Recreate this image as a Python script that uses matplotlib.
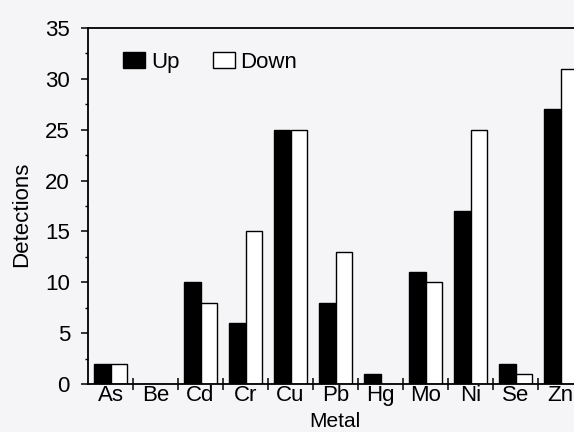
import matplotlib
matplotlib.use("Agg")
import matplotlib.pyplot as plt
import numpy as np
from matplotlib.ticker import MultipleLocator, FixedLocator, NullFormatter

plt.rcParams['font.family'] = ['Liberation Sans', 'DejaVu Sans']

metals = ["As", "Be", "Cd", "Cr", "Cu", "Pb", "Hg", "Mo", "Ni", "Se", "Zn"]
up = [2, 0, 10, 6, 25, 8, 1, 11, 17, 2, 27]
down = [2, 0, 8, 15, 25, 13, 0, 10, 25, 1, 31]

bg = "#f5f5f7"
fig = plt.figure(figsize=(5.74, 4.32), dpi=100, facecolor=bg)
ax = fig.add_axes([88 / 574, 1 - 384 / 432, 495 / 574, 356 / 432], facecolor=bg)

x = np.arange(len(metals))
w = 0.36
ax.bar(x - w / 2, up, width=w, color="black", edgecolor="black", linewidth=1.0, label="Up")
ax.bar(x + w / 2, down, width=w, color="white", edgecolor="black", linewidth=1.0, label="Down")

ax.set_xlim(-0.5, len(metals) - 0.5)
ax.set_ylim(0, 35)

ax.spines["right"].set_visible(False)
for s in ("left", "bottom", "top"):
    ax.spines[s].set_linewidth(1.3)

ax.yaxis.set_major_locator(MultipleLocator(5))
ax.yaxis.set_minor_locator(MultipleLocator(2.5))
ax.tick_params(axis="y", which="major", direction="out", length=5, width=1.1, labelsize=16, pad=8)
ax.tick_params(axis="y", which="minor", direction="out", length=2.5, width=1.0)

ax.xaxis.set_major_locator(FixedLocator(x))
ax.set_xticklabels(metals)
ax.xaxis.set_minor_locator(FixedLocator(x[:-1] + 0.5))
ax.xaxis.set_minor_formatter(NullFormatter())
ax.tick_params(axis="x", which="major", length=0, labelsize=16, pad=1)
ax.tick_params(axis="x", which="minor", direction="inout", length=8, width=1.1)

ax.set_ylabel("Detections", fontsize=16)
ax.yaxis.set_label_coords(-(88 - 32) / 495, (384 - 214) / 356)
ax.set_xlabel("Metal", fontsize=15)
ax.xaxis.set_label_coords((335 - 88) / 495, -(412 - 384) / 356)
ax.xaxis.label.set_verticalalignment("top")

leg = ax.legend(loc="upper left", ncol=2, frameon=False, fontsize=16,
                bbox_to_anchor=((123 - 88) / 495, 1 - (52 - 28) / 356),
                handlelength=1.0, handleheight=0.7,
                handletextpad=0.25, columnspacing=1.5, borderaxespad=0,
                borderpad=0)

fig.savefig("out.png", dpi=100, facecolor=bg)
